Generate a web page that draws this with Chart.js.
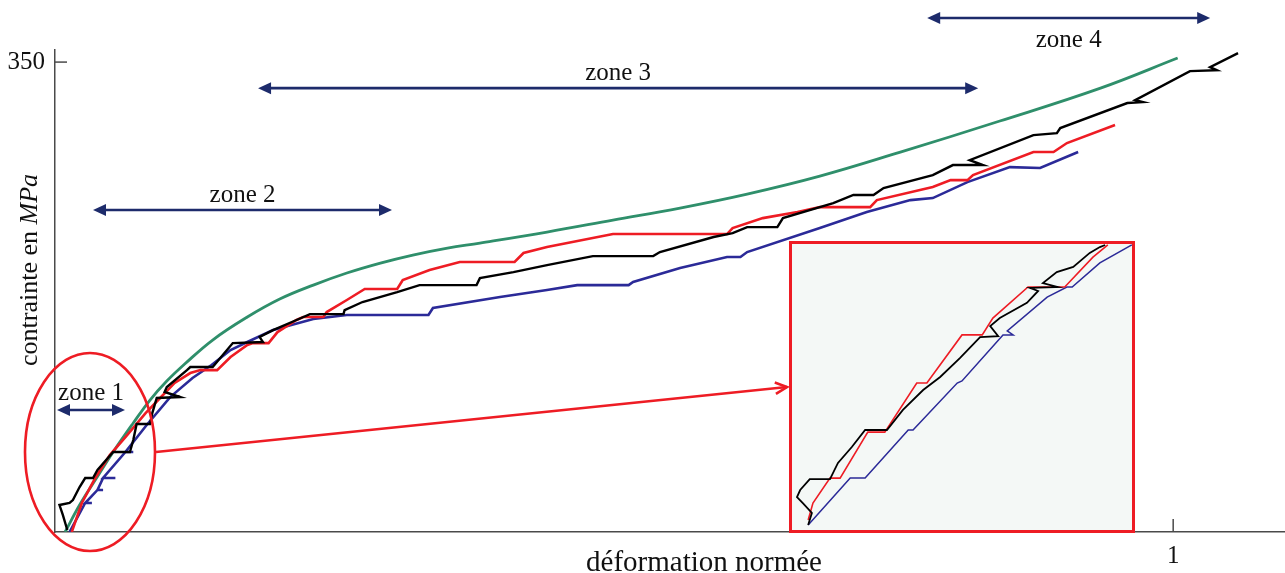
<!DOCTYPE html>
<html><head><meta charset="utf-8">
<script src="https://cdn.jsdelivr.net/npm/chart.js@4.4.0/dist/chart.umd.min.js"></script>
<style>
html,body{margin:0;padding:0;background:#fff;overflow:hidden}
#wrap{position:relative;width:1285px;height:573px}
#main{position:absolute;left:0;top:0}
#inset{position:absolute;left:789px;top:241px}
</style></head><body>
<div id="wrap">
<canvas id="main" width="1285" height="573"></canvas>
<canvas id="inset" width="346" height="292"></canvas>
</div>
<script>
// ---- tick labels ----
const xTicks = [1];
const yTicks = [350];

// ---- main curves: [déformation normée, contrainte MPa] ----
const curveGreen = [[0.009,0],[0.022,20.1],[0.036,38.7],[0.052,59.6],[0.070,81.2],[0.085,98.3],[0.100,112.4],[0.116,125.1],[0.141,143.0],[0.172,160.1],[0.201,173.5],[0.231,183.9],[0.261,192.9],[0.291,200.3],[0.320,206.3],[0.351,211.5],[0.380,215.2],[0.440,223.4],[0.499,232.3],[0.559,241.3],[0.619,251.7],[0.684,265.1],[0.756,283.0],[0.845,306.1],[0.935,330.6],[1.004,353.0]];

const curveRed = [[0.015,0],[0.024,21.6],[0.036,40.2],[0.049,57.3],[0.063,70.7],[0.081,88.6],[0.094,99.8],[0.107,111.0],[0.121,118.4],[0.130,120.6],[0.145,120.6],[0.157,130.3],[0.172,139.3],[0.177,140.7],[0.191,140.7],[0.199,148.9],[0.216,157.9],[0.222,160.1],[0.240,160.1],[0.243,163.8],[0.261,172.8],[0.277,181.0],[0.306,181.0],[0.311,187.7],[0.335,195.1],[0.362,201.1],[0.411,201.1],[0.419,207.8],[0.440,212.2],[0.499,221.9],[0.601,221.9],[0.606,226.4],[0.633,233.8],[0.664,238.3],[0.684,242.0],[0.729,242.0],[0.735,247.2],[0.785,256.9],[0.801,262.1],[0.816,262.1],[0.821,265.8],[0.875,283.0],[0.893,283.0],[0.905,289.7],[0.948,303.1]];

const curveBlue = [[0.013,0],[0.027,21.6],[0.033,21.6],[0.027,21.6],[0.038,31.3],[0.043,31.3],[0.038,31.3],[0.043,40.2],[0.054,40.2],[0.043,40.2],[0.063,59.6],[0.070,59.6],[0.063,59.6],[0.082,79.7],[0.103,100.5],[0.123,114.7],[0.140,124.4],[0.157,135.5],[0.172,141.5],[0.195,150.4],[0.231,158.6],[0.261,161.6],[0.334,161.6],[0.338,166.8],[0.398,175.0],[0.440,180.2],[0.467,183.9],[0.513,183.9],[0.517,186.2],[0.559,196.6],[0.601,204.8],[0.613,204.8],[0.619,208.5],[0.684,226.4],[0.726,238.3],[0.765,247.2],[0.785,248.7],[0.816,260.6],[0.854,271.8],[0.881,271.1],[0.915,283.0]];

const curveBlack = [[0.011,1.5],[0.007,12.7],[0.004,20.1],[0.013,21.6],[0.016,23.8],[0.022,33.5],[0.027,40.2],[0.034,40.2],[0.038,46.2],[0.052,59.6],[0.067,59.6],[0.070,68.5],[0.073,80.4],[0.085,80.4],[0.087,88.6],[0.091,99.8],[0.112,100.5],[0.098,104.3],[0.100,108.0],[0.118,120.6],[0.121,122.9],[0.141,122.9],[0.159,140.7],[0.186,141.5],[0.183,145.2],[0.195,150.4],[0.216,157.9],[0.228,162.3],[0.258,162.3],[0.259,165.3],[0.275,171.3],[0.306,178.7],[0.326,183.9],[0.377,183.9],[0.380,189.1],[0.410,193.6],[0.440,198.8],[0.481,205.5],[0.535,205.5],[0.541,208.5],[0.589,219.7],[0.606,222.6],[0.619,227.1],[0.646,227.1],[0.651,233.8],[0.696,245.0],[0.714,251.0],[0.732,251.0],[0.741,256.2],[0.785,265.8],[0.803,273.3],[0.830,273.3],[0.818,277.0],[0.875,295.6],[0.896,297.1],[0.899,300.9],[0.959,319.5],[0.973,320.2],[0.966,321.7],[1.015,343.3],[1.039,344.0],[1.033,346.2],[1.058,356.7]];

// ---- inset (zoom of zone 1) ----
const insetRed = [[0.0036,5.6],[0.0045,12.8],[0.0077,23.5],[0.0096,23.5],[0.0148,43.2],[0.0180,43.2],[0.0240,64.2],[0.0259,64.2],[0.0325,84.8],[0.0363,84.8],[0.0383,92.0],[0.0449,105.3],[0.0518,105.3],[0.0571,118.1],[0.0599,123.3]];
const insetBlue = [[0.0036,3.4],[0.0115,23.5],[0.0143,23.5],[0.0224,44.1],[0.0233,44.1],[0.0316,64.2],[0.0325,65.1],[0.0402,84.8],[0.0421,84.8],[0.0410,86.5],[0.0485,101.0],[0.0522,105.3],[0.0532,105.3],[0.0584,115.6],[0.0644,123.3]];
const insetBlack = [[0.0036,3.4],[0.0043,8.6],[0.0026,12.8],[0.0015,15.4],[0.0021,18.4],[0.0039,23.1],[0.0077,23.1],[0.0092,30.0],[0.0118,36.8],[0.0143,44.1],[0.0184,44.1],[0.0214,52.7],[0.0252,61.2],[0.0284,66.8],[0.0321,74.9],[0.0359,83.9],[0.0393,84.3],[0.0378,88.6],[0.0396,92.0],[0.0447,98.5],[0.0468,103.6],[0.0453,104.9],[0.0505,105.3],[0.0477,107.0],[0.0503,111.7],[0.0534,113.9],[0.0565,119.9],[0.0584,122.4],[0.0594,123.3]];

// ---- zone annotations (x range in data units, y level in MPa) ----
const zoneNames = ['zone 1','zone 2','zone 3','zone 4'];
const zoneStart = [0.0018, 0.034, 0.1816, 0.780];
const zoneEnd   = [0.0626, 0.3014, 0.8256, 1.0331];
const zoneLevel = [90.9, 239.8, 330.6, 382.8];
const zoneLabelLevel = [103.5, 251.0, 341.8, 366.4];

const COL = {green:'#2f8f6b', red:'#ee1c24', blue:'#2b2a98', black:'#000000', arrow:'#1d2b6b', axis:'#4a4a4a'};
const SERIF = '"Liberation Serif", "Times New Roman", serif';
const toXY = a => a.map(p => ({x:p[0], y:p[1]}));

function ds(label, data, color, w, tension){
  return {label, data: toXY(data), borderColor: color, backgroundColor: color, borderWidth: w,
    showLine: true, pointRadius: 0, pointHoverRadius: 0, tension: tension||0, fill:false};
}

function arrowHead(ctx, x, y, dir){
  ctx.beginPath();
  ctx.moveTo(x, y);
  ctx.lineTo(x - dir*13, y - 6);
  ctx.lineTo(x - dir*13, y + 6);
  ctx.closePath();
  ctx.fill();
}

const deco = {
  id: 'deco',
  afterDraw(chart){
    const {ctx, scales:{x, y}} = chart;
    ctx.save();
    ctx.strokeStyle = COL.axis; ctx.lineWidth = 1.5;
    yTicks.forEach(v => { const py = y.getPixelForValue(v); ctx.beginPath(); ctx.moveTo(x.left, py); ctx.lineTo(x.left+12, py); ctx.stroke(); });
    xTicks.forEach(v => { const px = x.getPixelForValue(v); ctx.beginPath(); ctx.moveTo(px, y.bottom); ctx.lineTo(px, y.bottom-13); ctx.stroke(); });

    ctx.lineWidth = 2.6;
    ctx.font = '25px ' + SERIF; ctx.textAlign = 'center'; ctx.textBaseline = 'middle';
    zoneNames.forEach((n,i) => {
      const x0 = x.getPixelForValue(zoneStart[i]), x1 = x.getPixelForValue(zoneEnd[i]);
      const py = y.getPixelForValue(zoneLevel[i]);
      ctx.strokeStyle = COL.arrow; ctx.fillStyle = COL.arrow;
      ctx.beginPath(); ctx.moveTo(x0+8, py); ctx.lineTo(x1-8, py); ctx.stroke();
      arrowHead(ctx, x0, py, -1); arrowHead(ctx, x1, py, 1);
      ctx.fillStyle = '#111';
      ctx.fillText(n, (x0+x1)/2, y.getPixelForValue(zoneLabelLevel[i]));
    });

    const cx = x.getPixelForValue(0.0313), cy = y.getPixelForValue(59.6);
    ctx.strokeStyle = COL.red; ctx.lineWidth = 2.6;
    ctx.beginPath(); ctx.ellipse(cx, cy, 65, 99, 0, 0, Math.PI*2); ctx.stroke();
    const sx = cx + 66, sy = cy, ex = 787, ey = 387;
    ctx.beginPath(); ctx.moveTo(sx, sy); ctx.lineTo(ex, ey); ctx.stroke();
    const ang = Math.atan2(ey-sy, ex-sx);
    ctx.beginPath();
    ctx.moveTo(ex - 13*Math.cos(ang-0.45), ey - 13*Math.sin(ang-0.45));
    ctx.lineTo(ex, ey);
    ctx.lineTo(ex - 13*Math.cos(ang+0.45), ey - 13*Math.sin(ang+0.45));
    ctx.stroke();

    ctx.fillStyle = '#111'; ctx.textBaseline = 'alphabetic'; ctx.textAlign = 'left';
    ctx.font = '29px ' + SERIF;
    const xt = 'déformation normée';
    const xw = ctx.measureText(xt).width;
    ctx.fillText(xt, 704 - xw/2, 571);

    ctx.translate(37, 270); ctx.rotate(-Math.PI/2);
    const t1 = 'contrainte en ', t2 = 'MPa';
    ctx.font = '26px ' + SERIF; const w1 = ctx.measureText(t1).width;
    ctx.font = 'italic 26px ' + SERIF; const w2 = ctx.measureText(t2).width;
    const start = -(w1+w2)/2;
    ctx.font = '26px ' + SERIF; ctx.fillText(t1, start, 0);
    ctx.font = 'italic 26px ' + SERIF; ctx.fillText(t2, start + w1, 0);
    ctx.restore();
  }
};

new Chart(document.getElementById('main'), {
  type: 'scatter',
  data: { datasets: [
    ds('essai noir', curveBlack, COL.black, 2.4),
    ds('essai rouge', curveRed, COL.red, 2.6),
    ds('essai bleu', curveBlue, COL.blue, 2.6),
    ds('modèle', curveGreen, COL.green, 2.8, 0.4)
  ]},
  options: {
    responsive: false, animation: false,
    layout: { padding: {top: 50, left: 0, right: 0, bottom: 0} },
    plugins: { legend: {display: false}, tooltip: {enabled: false} },
    scales: {
      x: { type: 'linear', min: 0, max: 1.1,
        afterFit: s => { s.height = 41; },
        afterBuildTicks: s => { s.ticks = xTicks.map(v => ({value: v})); },
        grid: { display: false, drawTicks: false },
        border: { display: true, color: COL.axis, width: 1.5 },
        ticks: { padding: 9, color: '#111', font: {family: SERIF, size: 25}, maxRotation: 0, autoSkip: false }
      },
      y: { type: 'linear', min: 0, max: 359,
        afterFit: s => { s.width = 55; },
        afterBuildTicks: s => { s.ticks = yTicks.map(v => ({value: v})); },
        grid: { display: false, drawTicks: false },
        border: { display: true, color: COL.axis, width: 1.5 },
        ticks: { padding: 10, color: '#111', font: {family: SERIF, size: 25}, autoSkip: false }
      }
    }
  },
  plugins: [deco]
});

const insetFrame = {
  id: 'insetFrame',
  beforeDraw(chart){ const c = chart.ctx; c.save(); c.fillStyle = '#f4f8f6'; c.fillRect(0,0,chart.width,chart.height); c.restore(); },
  afterDraw(chart){ const c = chart.ctx; c.save(); c.strokeStyle = COL.red; c.lineWidth = 3; c.strokeRect(1.5,1.5,chart.width-3,chart.height-3); c.restore(); }
};

new Chart(document.getElementById('inset'), {
  type: 'scatter',
  data: { datasets: [
    ds('noir', insetBlack, COL.black, 1.8),
    ds('rouge', insetRed, COL.red, 1.6),
    ds('bleu', insetBlue, COL.blue, 1.5)
  ]},
  options: {
    responsive: false, animation: false,
    layout: { padding: 0 },
    plugins: { legend: {display: false}, tooltip: {enabled: false} },
    scales: {
      x: { type: 'linear', min: 0, max: 0.065, display: false },
      y: { type: 'linear', min: 0, max: 125, display: false }
    }
  },
  plugins: [insetFrame]
});
</script>
</body></html>
